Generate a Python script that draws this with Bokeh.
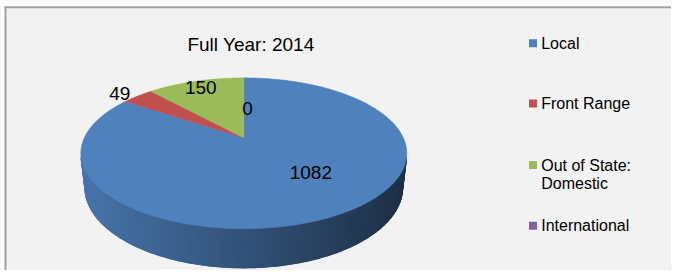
import numpy as np
from bokeh.plotting import figure
from bokeh.models import Range1d
from bokeh.core.properties import value
from bokeh.embed import file_html
from bokeh.resources import INLINE

# ---- data ----
title_text = "Full Year: 2014"
categories = ["Local", "Front Range", "Out of State:\nDomestic", "International"]
counts = [1082, 49, 150, 0]
colors = ["#4F81BD", "#C0504D", "#9BBB59", "#8064A2"]

# ---- layout / style ----
W, H = 671, 270
FONT = value("Liberation Sans")
CX, CY = 243.3, H - 137.3                 # pie apex (px)
SIN_A = 0.453
COS_A = np.sqrt(1 - SIN_A ** 2)
R, FOC, THICK = 0.2306, 691.7, 0.0556     # perspective model of the 3D pie
label_nudge = [-13.0, -3.0, 0.0, 3.3]     # degrees from slice mid-angle
label_radius = [0.583, 1.126, 0.875, 0.438]
legend_rows = [H - 42.8, H - 103.0, H - 164.6, H - 225.3]
legend_sq_x, legend_tx_x, line_gap = 532.5, 540.7, 18.8


def proj(phi_deg, r=1.0, y=0.0):
    ph = np.radians(phi_deg)
    X = R * r * np.sin(ph)
    Z = R * r * np.cos(ph)
    depth = 1 + Z * COS_A - y * SIN_A
    return CX + FOC * X / depth, CY + FOC * (y * COS_A + Z * SIN_A) / depth


def shade(hexc, f):
    h = hexc.lstrip("#")
    rgb = [int(h[i:i + 2], 16) for i in (0, 2, 4)]
    return "#%02x%02x%02x" % tuple(max(0, min(255, int(round(c * f)))) for c in rgb)


p = figure(width=W, height=H, x_range=Range1d(0, W), y_range=Range1d(0, H),
           output_backend="svg", toolbar_location=None, min_border=0,
           x_axis_location=None, y_axis_location=None)
p.grid.visible = False
p.outline_line_color = None
p.background_fill_color = "#F2F2F2"
p.border_fill_color = "#F2F2F2"

# white outer strip + frame lines (left & top)
p.quad(left=[0, 0], right=[4, W], bottom=[0, H - 6], top=[H, H],
       fill_color="white", line_color=None)
p.segment(x0=[5, 4], y0=[0, H - 6.7], x1=[5, W], y1=[H - 6.7, H - 6.7],
          line_color="#A0A0A0", line_width=2)

total = float(sum(counts))
bounds = np.concatenate([[0], np.cumsum(counts)]) / total * 360.0

# ---- side wall (visible, near part) ----
phi_vis = np.degrees(np.arccos(-R / COS_A))
x_left = proj(360 - phi_vis)[0]
x_right = proj(phi_vis)[0]
bx_all, by_all, bc_all = [], [], []
sx, sy, sc = [], [], []
for i, c in enumerate(counts):
    a0, a1 = max(bounds[i], phi_vis), min(bounds[i + 1], 360 - phi_vis)
    if c == 0 or a1 <= a0:
        continue
    edges = np.linspace(a0, a1, int((a1 - a0) / 1.0) + 2)
    tpx, tpy = proj(edges)
    bpx, bpy = proj(edges, y=-THICK)
    bx_all.append(list(tpx) + list(bpx[::-1]))
    by_all.append(list(tpy) + list(bpy[::-1]))
    bc_all.append(shade(colors[i], 0.62))
    for k in range(len(edges) - 1):
        sx.append([tpx[k], tpx[k + 1], bpx[k + 1], bpx[k]])
        sy.append([tpy[k], tpy[k + 1], bpy[k + 1], bpy[k]])
        t = ((tpx[k] + tpx[k + 1]) / 2 - x_left) / (x_right - x_left)
        sc.append(shade(colors[i], 0.90 - 0.53 * t))
p.patches(bx_all, by_all, fill_color=bc_all, line_color=bc_all, line_width=0.5)
p.patches(sx, sy, fill_color=sc, line_color=sc, line_width=1.2)

# ---- top surface ----
tx, ty, tc = [], [], []
for i, c in enumerate(counts):
    if c == 0:
        continue
    ph = np.linspace(bounds[i], bounds[i + 1], max(3, int(bounds[i + 1] - bounds[i]) + 2))
    px, py = proj(ph)
    tx.append([CX] + list(px))
    ty.append([CY] + list(py))
    tc.append(colors[i])
p.patches(tx, ty, fill_color=tc, line_color=tc, line_width=0.5)

# ---- data labels ----
lx, ly, lt = [], [], []
for i, c in enumerate(counts):
    mid = (bounds[i] + bounds[i + 1]) / 2 + label_nudge[i]
    x, y = proj(mid, label_radius[i])
    lx.append(x); ly.append(y); lt.append(str(c))
p.text(lx, ly, text=lt, text_align="center", text_baseline="middle",
       text_font=FONT, text_font_size="19px", text_color="#000000")

# ---- title ----
p.text([250.5], [H - 43.5], text=[title_text], text_align="center",
       text_baseline="middle", text_font=FONT, text_font_size="19px",
       text_color="#000000")

# ---- legend ----
p.rect([legend_sq_x] * len(categories), legend_rows, width=8, height=8,
       fill_color=colors, line_color=None)
gx, gy, gt = [], [], []
for i, cat in enumerate(categories):
    for j, line in enumerate(cat.split("\n")):
        gx.append(legend_tx_x); gy.append(legend_rows[i] - j * line_gap); gt.append(line)
p.text(gx, gy, text=gt, text_align="left", text_baseline="middle",
       text_font=FONT, text_font_size="16px", text_color="#000000")

open("out.html", "w").write(file_html(p, INLINE))
